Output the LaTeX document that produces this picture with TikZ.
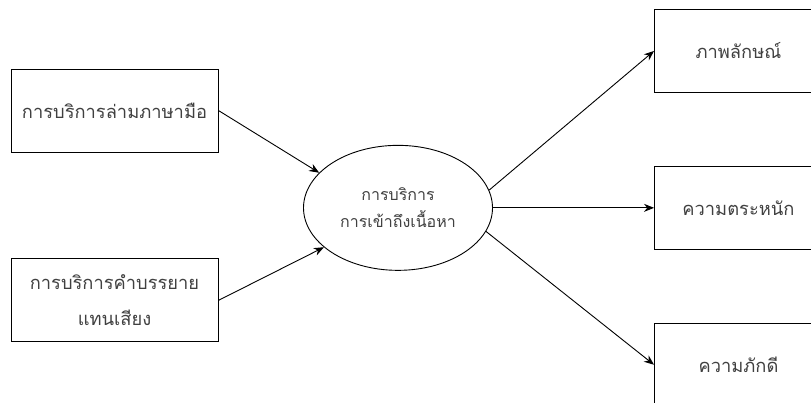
\documentclass[tikz,border=0pt]{standalone}
\usepackage{fontspec}
\newfontfamily\thaifont[Script=Thai]{Loma}
\usepackage{tikz}
\usetikzlibrary{shapes.geometric, arrows.meta, positioning}

\begin{document}
\begin{tikzpicture}[x=1pt, y=-1pt]
\tikzstyle{infobox} = [rectangle, draw, line width=0.9pt, text=black!75, align=center, minimum height=83pt, font=\thaifont\fontsize{18.3}{36}\selectfont]
\tikzstyle{hub} = [ellipse, draw, line width=0.9pt, text=black!75, align=center, minimum width=189pt, minimum height=125pt, inner sep=0pt, font=\thaifont\fontsize{16}{27}\selectfont]
\tikzstyle{arrow} = [line width=0.9pt, -{Stealth[length=10pt, width=8pt]}]

\useasboundingbox (0,0) rectangle (811,403);

\node (sign) [infobox, minimum width=207pt] at (114.5,110.5) {การบริการล่ามภาษามือ};
\node (audio) [infobox, minimum width=207pt, below=106pt of sign] {การบริการคำบรรยาย\\แทนเสียง};
\node (image) [infobox, minimum width=168pt, anchor=north west] at (654,9) {ภาพลักษณ์};
\node (aware) [infobox, minimum width=168pt, below=73pt of image] {ความตระหนัก};
\node (loyal) [infobox, minimum width=168pt, below=73pt of aware] {ความภักดี};
\node (access) [hub] at (398,0 |- aware.west) {การบริการ\\การเข้าถึงเนื้อหา};

\draw [arrow] (sign.east) -- (access.156);
\draw [arrow] (audio.east) -- (access.208);
\draw [arrow] (access.11) -- (image.west);
\draw [arrow] (access.east) -- (aware.west);
\draw [arrow] (access.-15) -- (loyal.west);

\end{tikzpicture}
\end{document}
